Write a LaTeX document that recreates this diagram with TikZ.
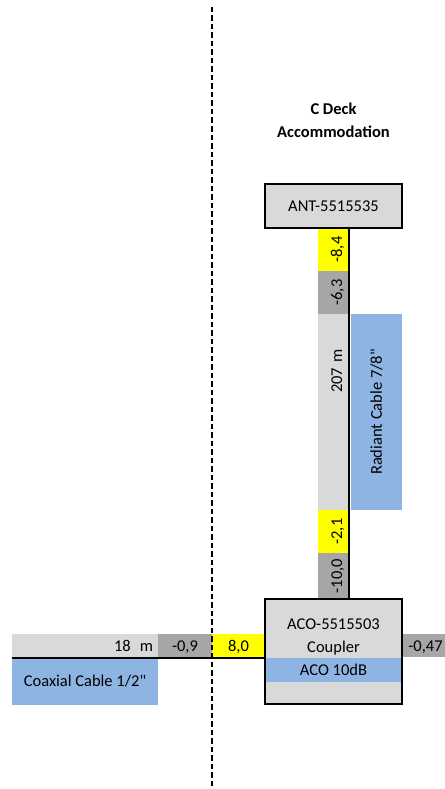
\documentclass[tikz,border=0pt]{standalone}
\usepackage{fontspec}
\setmainfont{Carlito}[Ligatures=TeXOff]
\definecolor{cellgray}{HTML}{D9D9D9}
\definecolor{lossgray}{HTML}{A6A6A6}
\definecolor{gainyellow}{HTML}{FFFF00}
\definecolor{cableblue}{HTML}{8EB4E3}
\newcommand{\cellfont}{\fontsize{16.5}{23}\selectfont}

\begin{document}
\begin{tikzpicture}[x=1pt, y=-1pt,
    cell/.style={inner sep=0pt, outer sep=0pt, font=\cellfont, text height=10.7pt, text depth=0pt},
    hcell/.style={cell, minimum height=23pt, text height=12pt},
    vcell/.style={cell, rotate=90, minimum height=31pt, text height=17pt},
    device/.style={draw, line width=2pt, fill=cellgray, inner sep=0pt, minimum width=137pt, font=\cellfont},
    title/.style={font=\cellfont\bfseries, align=center, inner sep=0pt},
    wire/.style={line width=2pt},
    deckline/.style={line width=2pt, dash pattern=on 5.5pt off 3pt}]
    \useasboundingbox (0,0) rectangle (444,789);

    % --- Titel ---
    \node[title] (deck) at (333.5,120) {C Deck\\Accommodation};

    % --- Radiant Cable (vertikal) ---
    \node[vcell, fill=gainyellow, minimum width=43pt] (gainant) at (333.5,249.5) {-8,4};
    \node[vcell, fill=lossgray, minimum width=43pt] (lossant) at (333.5,292.5) {-6,3};
    \node[vcell, fill=cellgray, minimum width=196pt, text width=126pt, align=right, inner xsep=35pt] (radlen) at (333.5,412) {207 m};
    \node[vcell, fill=gainyellow, minimum width=43pt] (gaincpl) at (333.5,531.5) {-2,1};
    \node[vcell, fill=lossgray, minimum width=46pt] (losscpl) at (333.5,576) {-10,0};
    \node[cell, rotate=90, fill=cableblue, minimum width=196pt, minimum height=51pt] (radiant) at (376.5,412) {Radiant Cable 7/8"};

    % --- Coaxial Cable (horizontal) ---
    \node[hcell, fill=cellgray, minimum width=146pt, text width=136pt, align=right, inner xsep=5pt] (coaxlen) at (85,645.5) {18\hspace{9pt}m};
    \node[hcell, fill=lossgray, minimum width=54pt] (losscoax) at (185,645.5) {-0,9};
    \node[hcell, fill=gainyellow, minimum width=53pt] (gaincoax) at (238.5,645.5) {8,0};
    \node[cell, fill=cableblue, minimum width=146pt, minimum height=47pt] (coax) at (85,681.5) {Coaxial Cable 1/2"};
    \node[hcell, fill=lossgray, minimum width=47pt] (lossout) at (425.5,645.5) {-0,47};

    % --- Geraete ---
    \node[device, minimum height=44pt] (ant) at (333.5,206) {ANT-5515535};
    \node[device, minimum height=105pt] (coupler) at (333.5,651.5) {};
    \node[cell, fill=cableblue, minimum width=135pt, minimum height=24pt] (acoband) at (333.5,670) {ACO 10dB};
    \node[cell, anchor=base] (acoid) at (333.5,629) {ACO-5515503};
    \node[cell, anchor=base] (acotype) at (333.5,652) {Coupler};

    % --- Leitungen ---
    \coordinate (feedx) at (349,0);
    \draw[wire] (ant.south -| feedx) -- (coupler.north -| feedx);
    \coordinate (coaxend) at (12,657.5);
    \draw[wire] (coaxend) -- (coaxend -| coupler.west);

    % --- Decksgrenze ---
    \coordinate (decktop) at (212,7);
    \coordinate (deckbot) at (212,789);
    \draw[deckline] (decktop) -- (deckbot);
\end{tikzpicture}
\end{document}
